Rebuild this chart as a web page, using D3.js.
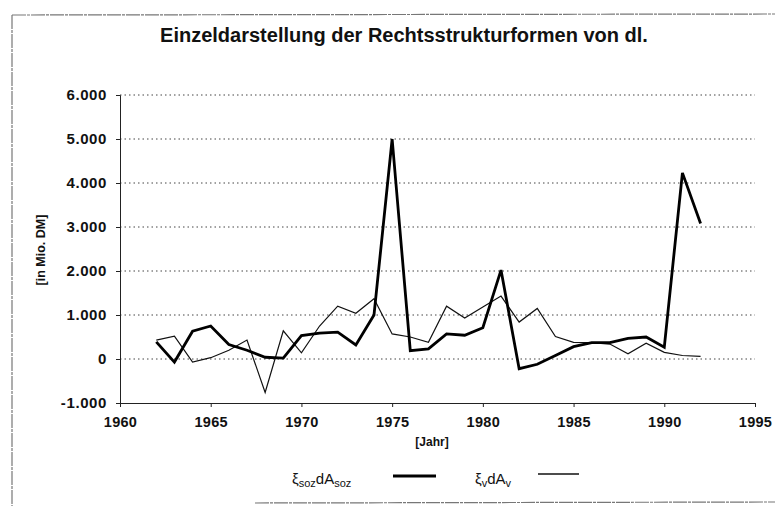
<!DOCTYPE html>
<html>
<head>
<meta charset="utf-8">
<script src="https://cdn.jsdelivr.net/npm/d3@7/dist/d3.min.js"></script>
<style>
  body { margin: 0; background: #fff; }
  svg text { font-family: 'Liberation Sans', Arial, sans-serif; font-weight: bold; fill: #111; }
</style>
</head>
<body>
<div id="chart"></div>
<script>
/* global d3 */

var YEARS = d3.range(1962, 1993)
// thick line: xi_soz dA_soz
var SOZ = [390, -70, 630, 750, 330, 200, 40, 20, 530, 590,
  610, 320, 1000, 5000, 190, 230, 570, 540, 710, 2020,
  -220, -120, 80, 280, 370, 370, 470, 500, 270, 4230, 3080]
// thin line: xi_v dA_v
var V = [430, 520, -70, 30, 200, 430, -760, 640, 140, 750,
  1200, 1040, 1370, 570, 500, 380, 1200, 930, 1180, 1430,
  840, 1150, 510, 380, 370, 340, 120, 360, 150, 80, 60]
var X_TICKS = [1960, 1965, 1970, 1975, 1980, 1985, 1990, 1995]
var Y_TICKS = [-1000, 0, 1000, 2000, 3000, 4000, 5000, 6000]
var Y_GRID = [0, 1000, 2000, 3000, 4000, 5000, 6000]

;(function () {
  var WIDTH = 775
  var HEIGHT = 506
  var LEFT = 120
  var RIGHT = 755
  var TOP = 95
  var BOTTOM = 403

  var svg = d3.select('#chart').append('svg')
    .attr('width', WIDTH)
    .attr('height', HEIGHT)

  // scanned page frame
  var frame = svg.append('g')
    .attr('stroke', '#777')
    .attr('stroke-width', 1.2)
    .attr('stroke-dasharray', '14,1,3,1')
    .attr('fill', 'none')
  frame.append('line').attr('x1', 12).attr('y1', 15).attr('x2', WIDTH).attr('y2', 14)
  frame.append('line').attr('x1', 12).attr('y1', 15).attr('x2', 12).attr('y2', HEIGHT)
  frame.append('line').attr('x1', 255).attr('y1', 503).attr('x2', WIDTH).attr('y2', 502)

  var x = d3.scaleLinear().domain([1960, 1995]).range([LEFT, RIGHT])
  var y = d3.scaleLinear().domain([-1000, 6000]).range([BOTTOM, TOP])

  // German thousands separator, plain hyphen for negatives
  var fmt = function (d) {
    return d3.format(',')(Math.abs(d)).replace(/,/g, '.').replace(/^/, d < 0 ? '-' : '')
  }

  // gridlines
  svg.append('g').selectAll('line').data(Y_GRID).enter().append('line')
    .attr('x1', LEFT)
    .attr('x2', RIGHT)
    .attr('y1', y)
    .attr('y2', y)
    .attr('stroke', '#444')
    .attr('stroke-width', 1)
    .attr('stroke-dasharray', '1.5,3')

  // axes
  var yAxis = svg.append('g')
    .attr('transform', 'translate(' + LEFT + ',0)')
    .call(d3.axisLeft(y).tickValues(Y_TICKS).tickSize(4).tickPadding(9).tickFormat(fmt))
  yAxis.selectAll('text').attr('font-size', 15).attr('letter-spacing', 0.6)

  var xAxis = svg.append('g')
    .attr('transform', 'translate(0,' + BOTTOM + ')')
    .call(d3.axisBottom(x).tickValues(X_TICKS).tickSize(4).tickPadding(10).tickFormat(d3.format('d')))
  xAxis.selectAll('text').attr('font-size', 14.5).attr('letter-spacing', 0.3)

  svg.selectAll('.domain').attr('stroke', '#222')
  svg.selectAll('.tick line').attr('stroke', '#222')

  // lines
  var line = function (values) {
    return d3.line()
      .x(function (d, i) { return x(YEARS[i]) })
      .y(function (d) { return y(d) })(values)
  }

  svg.append('path')
    .attr('d', line(V))
    .attr('fill', 'none')
    .attr('stroke', '#111')
    .attr('stroke-width', 1.2)
    .attr('stroke-linejoin', 'miter')

  svg.append('path')
    .attr('d', line(SOZ))
    .attr('fill', 'none')
    .attr('stroke', '#000')
    .attr('stroke-width', 2.8)
    .attr('stroke-linejoin', 'miter')

  // titles
  svg.append('text')
    .attr('x', 404)
    .attr('y', 42)
    .attr('text-anchor', 'middle')
    .attr('font-size', 20)
    .text('Einzeldarstellung der Rechtsstrukturformen von dl.')

  svg.append('text')
    .attr('x', 432)
    .attr('y', 446)
    .attr('text-anchor', 'middle')
    .attr('font-size', 12)
    .text('[Jahr]')

  svg.append('text')
    .attr('transform', 'translate(45,250) rotate(-90)')
    .attr('text-anchor', 'middle')
    .attr('font-size', 12.5)
    .text('[in Mio. DM]')

  // legend
  var legend = svg.append('g').attr('transform', 'translate(0,484)')
  var t1 = legend.append('text').attr('x', 292).attr('font-size', 15).style('font-weight', 'normal')
  t1.append('tspan').text('ξ')
  t1.append('tspan').attr('font-size', 11).attr('dy', 3).text('soz')
  t1.append('tspan').attr('dy', -3).text('dA')
  t1.append('tspan').attr('font-size', 11).attr('dy', 3).text('soz')
  legend.append('line')
    .attr('x1', 393).attr('x2', 436).attr('y1', -8).attr('y2', -8)
    .attr('stroke', '#000').attr('stroke-width', 2.8)

  var t2 = legend.append('text').attr('x', 475).attr('font-size', 15).style('font-weight', 'normal')
  t2.append('tspan').text('ξ')
  t2.append('tspan').attr('font-size', 11).attr('dy', 3).text('v')
  t2.append('tspan').attr('dy', -3).text('dA')
  t2.append('tspan').attr('font-size', 11).attr('dy', 3).text('v')
  legend.append('line')
    .attr('x1', 538).attr('x2', 579).attr('y1', -10).attr('y2', -10)
    .attr('stroke', '#111').attr('stroke-width', 1.4)
})()
</script>
</body>
</html>
